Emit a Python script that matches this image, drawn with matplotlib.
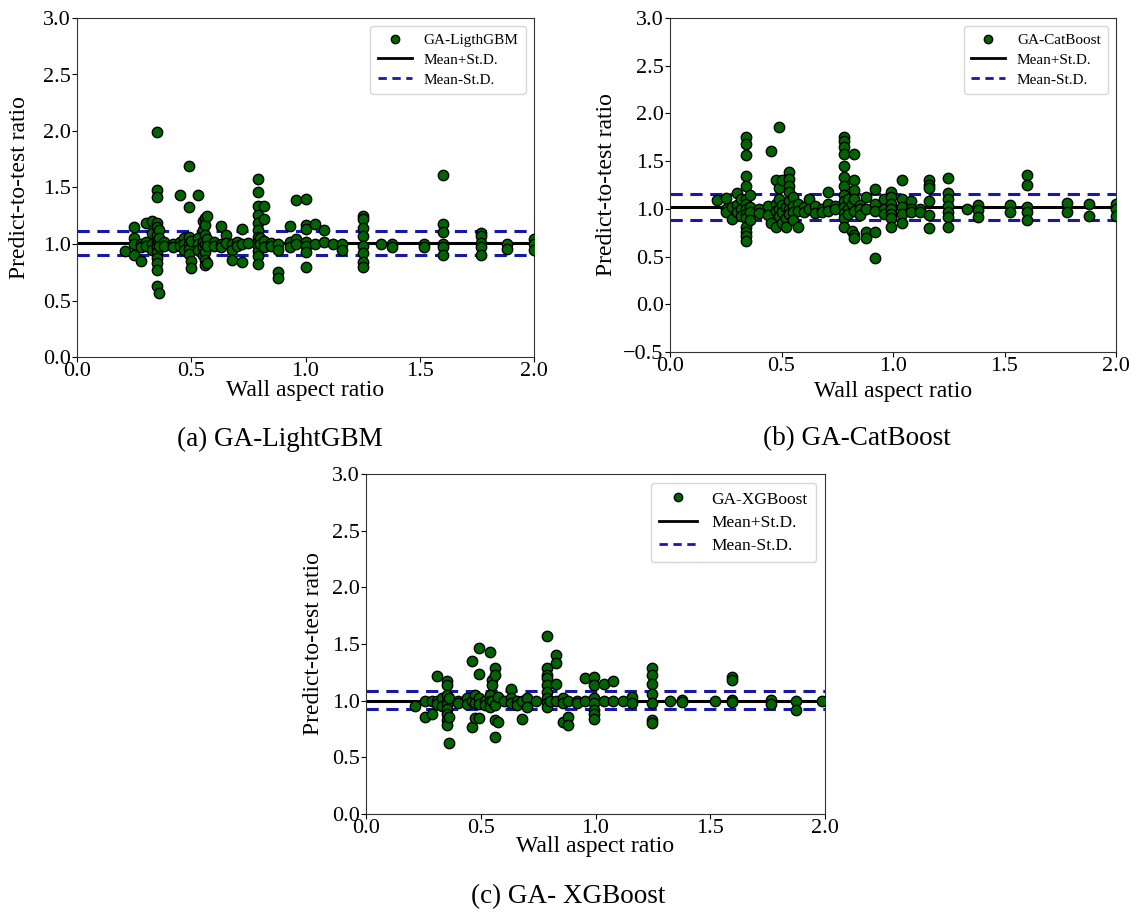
import matplotlib
matplotlib.use("Agg")
import matplotlib.pyplot as plt
from matplotlib.lines import Line2D

plt.rcParams['font.family'] = ['Liberation Serif', 'DejaVu Serif']
plt.rcParams['mathtext.fontset'] = 'stix'

# ---------------- data (x = wall aspect ratio, list of predict-to-test ratios) -------------
lgbm_columns = [
    (0.21, [0.94]),
    (0.25, [1.15, 1.05, 1.0, 0.90]),
    (0.28, [1.0, 0.97, 0.85]),
    (0.30, [1.19, 1.02, 0.98]),
    (0.33, [1.20, 1.10, 1.0, 0.95]),
    (0.35, [1.99, 1.48, 1.42, 1.19, 1.15, 1.08, 1.03, 1.0, 0.97, 0.93, 0.88, 0.83, 0.77, 0.63]),
    (0.36, [1.12, 1.05, 0.98, 0.57]),
    (0.38, [1.02, 0.98]),
    (0.42, [1.0, 0.97]),
    (0.45, [1.43, 1.02, 0.98]),
    (0.47, [1.05, 1.0, 0.95]),
    (0.49, [1.69, 1.33, 1.06, 1.0, 0.96, 0.91]),
    (0.50, [1.03, 0.85, 0.79]),
    (0.53, [1.43, 1.05, 1.0, 0.95]),
    (0.55, [1.20, 1.12, 1.02, 0.97, 0.90]),
    (0.56, [1.23, 1.17, 1.08, 1.0, 0.93, 0.86, 0.81]),
    (0.57, [1.25, 1.04, 0.98, 0.83]),
    (0.60, [1.02, 0.98]),
    (0.63, [1.16, 1.0, 0.97]),
    (0.65, [1.08, 1.01]),
    (0.68, [1.0, 0.95, 0.86]),
    (0.70, [1.02, 0.98]),
    (0.72, [1.13, 1.0, 0.84]),
    (0.75, [1.01]),
    (0.79, [1.575, 1.46, 1.34, 1.26, 1.19, 1.12, 1.06, 1.02, 0.98, 0.94, 0.89, 0.82]),
    (0.80, [1.05, 1.0]),
    (0.82, [1.34, 1.22, 1.03, 0.97]),
    (0.85, [1.01, 0.98]),
    (0.88, [1.0, 0.95, 0.75, 0.70]),
    (0.93, [1.16, 1.02, 0.97]),
    (0.96, [1.39, 1.04, 1.0]),
    (1.00, [1.40, 1.17, 1.13, 1.02, 0.98, 0.93, 0.80]),
    (1.04, [1.18, 1.0]),
    (1.08, [1.12, 1.02]),
    (1.12, [1.0]),
    (1.16, [1.0, 0.95]),
    (1.25, [1.25, 1.22, 1.14, 1.07, 0.98, 0.92, 0.84, 0.80]),
    (1.33, [1.0]),
    (1.38, [1.0, 0.97]),
    (1.52, [1.0, 0.97]),
    (1.60, [1.61, 1.18, 1.11, 1.0, 0.97, 0.90]),
    (1.77, [1.10, 1.07, 1.01, 0.97, 0.90]),
    (1.88, [1.0, 0.96]),
    (2.00, [1.04, 1.0, 0.95]),
]

catboost_columns = [
    (0.21, [1.095]),
    (0.25, [1.11, 1.0, 0.97]),
    (0.28, [1.02, 0.89]),
    (0.30, [1.165, 1.04, 0.97]),
    (0.32, [1.10, 1.0, 0.92]),
    (0.34, [1.756, 1.675, 1.56, 1.34, 1.24, 1.10, 1.05, 1.0, 0.95, 0.90, 0.81, 0.76, 0.72, 0.66]),
    (0.36, [1.15, 1.02, 0.97, 0.88]),
    (0.40, [1.0, 0.96]),
    (0.44, [1.03, 0.94]),
    (0.455, [1.61, 0.85]),
    (0.475, [1.30, 1.05, 0.98, 0.81]),
    (0.49, [1.86, 1.22, 1.10, 1.0, 0.93]),
    (0.50, [1.30, 1.04, 0.97, 0.85]),
    (0.52, [1.02, 0.90, 0.81]),
    (0.535, [1.39, 1.31, 1.24, 1.18, 1.08, 1.0, 0.95]),
    (0.55, [1.12, 1.03, 0.97, 0.88]),
    (0.575, [1.05, 0.98, 0.81]),
    (0.60, [1.02, 0.97]),
    (0.625, [1.105, 1.0]),
    (0.65, [1.03, 0.96]),
    (0.68, [1.0, 0.97]),
    (0.71, [1.175, 1.05, 0.98]),
    (0.74, [1.03, 1.0]),
    (0.78, [1.756, 1.71, 1.65, 1.58, 1.45, 1.33, 1.24, 1.15, 1.08, 1.02, 0.96, 0.90, 0.81]),
    (0.80, [1.10, 1.0, 0.95]),
    (0.815, [1.05, 0.77]),
    (0.826, [1.57, 1.30, 1.20, 1.10, 0.98, 0.73, 0.69]),
    (0.85, [1.04, 1.0, 0.94]),
    (0.88, [1.12, 1.0, 0.76, 0.69]),
    (0.92, [1.21, 1.05, 0.98, 0.76, 0.48]),
    (0.96, [1.10, 1.0, 0.95]),
    (0.99, [1.18, 1.12, 1.05, 1.0, 0.95, 0.90, 0.81]),
    (1.04, [1.305, 1.10, 1.02, 0.95, 0.85]),
    (1.08, [1.08, 1.0, 0.97]),
    (1.12, [1.0, 0.97]),
    (1.16, [1.305, 1.25, 1.22, 1.08, 0.94, 0.80]),
    (1.245, [1.32, 1.165, 1.10, 1.03, 0.97, 0.91, 0.81]),
    (1.33, [1.0]),
    (1.38, [1.04, 0.99, 0.91]),
    (1.525, [1.04, 0.97]),
    (1.60, [1.35, 1.25, 1.02, 0.97, 0.88]),
    (1.78, [1.06, 0.97]),
    (1.88, [1.05, 0.92]),
    (2.00, [1.05, 1.0, 0.93]),
]

xgboost_columns = [
    (0.213, [0.95]),
    (0.257, [1.0, 0.86]),
    (0.286, [1.0, 0.886]),
    (0.308, [1.217, 1.0, 0.97]),
    (0.33, [1.02, 0.95]),
    (0.351, [1.173, 1.138, 1.05, 1.0, 0.97, 0.93, 0.886, 0.827, 0.786]),
    (0.36, [1.02, 0.86, 0.627]),
    (0.40, [1.0, 0.98]),
    (0.44, [1.02, 0.97]),
    (0.46, [1.352, 1.0, 0.77]),
    (0.475, [1.05, 0.98, 0.85]),
    (0.494, [1.461, 1.231, 1.02, 0.97, 0.85]),
    (0.52, [1.0, 0.96]),
    (0.54, [1.432, 1.05, 1.0, 0.94]),
    (0.55, [1.18, 1.14, 1.0]),
    (0.56, [1.285, 1.23, 0.96, 0.83, 0.68]),
    (0.575, [1.03, 0.81]),
    (0.60, [1.0]),
    (0.632, [1.10, 1.02, 0.98]),
    (0.66, [1.0, 0.96]),
    (0.681, [1.0, 0.836]),
    (0.70, [1.02, 0.94]),
    (0.74, [1.0]),
    (0.787, [1.574, 1.285, 1.23, 1.20, 1.14, 1.08, 1.02, 0.98, 0.94]),
    (0.80, [1.0]),
    (0.83, [1.403, 1.33, 1.15, 1.0]),
    (0.86, [1.02, 0.98, 0.81]),
    (0.88, [1.0, 0.86, 0.789]),
    (0.92, [1.0, 0.98]),
    (0.955, [1.196, 1.0]),
    (0.995, [1.205, 1.14, 1.02, 0.98, 0.917, 0.88, 0.84]),
    (1.037, [1.15, 1.0]),
    (1.078, [1.17, 1.0]),
    (1.12, [1.0]),
    (1.16, [1.03, 0.976]),
    (1.245, [1.285, 1.23, 1.15, 1.06, 0.976, 0.827, 0.80]),
    (1.325, [1.0]),
    (1.379, [1.01, 0.99]),
    (1.521, [1.0]),
    (1.596, [1.205, 1.18, 1.01, 0.99]),
    (1.765, [1.01, 0.97]),
    (1.874, [1.0, 0.92]),
    (1.985, [1.0]),
]

# mean line and +/- standard deviation lines for each model
mean_lines = [1.012, 1.018, 1.0]
upper_lines = [1.115, 1.155, 1.087]
lower_lines = [0.903, 0.884, 0.925]

model_names = ['GA-LigthGBM', 'GA-CatBoost', 'GA-XGBoost']
captions = ['(a) GA-LightGBM', '(b) GA-CatBoost', '(c) GA- XGBoost']
y_limits = [(0.0, 3.0), (-0.5, 3.0), (0.0, 3.0)]
x_ticks = [0.0, 0.5, 1.0, 1.5, 2.0]

# ---------------- figure ----------------
W, H = 1138, 914
fig = plt.figure(figsize=(W / 100, H / 100), dpi=100)

def box(l, t, r, b):
    return [l / W, 1 - b / H, (r - l) / W, (b - t) / H]

axes_boxes = [box(77, 18, 534, 357), box(670, 18, 1116, 352), box(366, 474, 825, 814)]
xlabel_y = [-0.100, -0.117, -0.097]
ylabel_x = [-0.125, -0.143, -0.115]
caption_pos = [(280, 439), (857, 439), (568, 897)]
legend_fs = [11, 11, 12.5]

all_columns = [lgbm_columns, catboost_columns, xgboost_columns]

for i in range(3):
    ax = fig.add_axes(axes_boxes[i])
    xs, ys = [], []
    for xv, yl in all_columns[i]:
        for yv in yl:
            xs.append(xv)
            ys.append(yv)
    ax.scatter(xs, ys, s=56, c='#006400', edgecolors='black', linewidths=1.0, zorder=3)
    ax.axhline(mean_lines[i], color='black', lw=2.2, zorder=2)
    ax.axhline(upper_lines[i], color='#1818a8', lw=2.2, ls=(0, (4, 2.5)), zorder=2)
    ax.axhline(lower_lines[i], color='#1818a8', lw=2.2, ls=(0, (4, 2.5)), zorder=2)
    ax.set_xlim(0, 2.0)
    ax.set_ylim(*y_limits[i])
    ax.set_xticks(x_ticks)
    ax.set_xlabel('Wall aspect ratio', fontsize=17)
    ax.set_ylabel('Predict-to-test ratio', fontsize=17)
    ax.xaxis.label.set_va('center')
    ax.yaxis.label.set_va('center')
    ax.xaxis.set_label_coords(0.5, xlabel_y[i])
    ax.yaxis.set_label_coords(ylabel_x[i], 0.5)
    ax.tick_params(labelsize=16, length=3.5)
    ax.tick_params(axis='x', pad=0.3)
    ax.tick_params(axis='y', pad=1)
    for sp in ax.spines.values():
        sp.set_color('#333333')
    handles = [
        Line2D([], [], marker='o', ls='none', markerfacecolor='#006400',
               markeredgecolor='black', markersize=6),
        Line2D([], [], color='black', lw=2),
        Line2D([], [], color='#1818a8', lw=2, ls=(0, (3, 2))),
    ]
    ax.legend(handles, [model_names[i], 'Mean+St.D.', 'Mean-St.D.'],
              loc='upper right', fontsize=legend_fs[i], frameon=True,
              borderpad=0.5, labelspacing=0.4, handlelength=2.2)
    cx, cy = caption_pos[i]
    fig.text(cx / W, 1 - cy / H, captions[i], fontsize=19.5, ha='center', va='center')

fig.savefig('out.png', dpi=100)
